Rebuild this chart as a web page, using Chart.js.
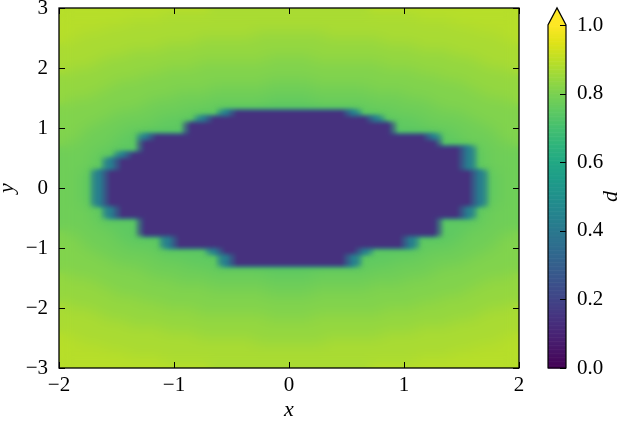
<!DOCTYPE html>
<html lang="en">
<head>
<meta charset="UTF-8">
<title>d(x, y)</title>
<script src="https://cdn.jsdelivr.net/npm/chart.js"></script>
<style>
    body { margin: 0; background: #fff; }
    #wrap { position: relative; width: 629px; height: 421px; }
    #mainChart { position: absolute; left: 0; top: 0; }
    #barChart { position: absolute; left: 530px; top: 0; }
</style>
</head>
<body>
<div id="wrap">
    <canvas id="mainChart" width="629" height="421"></canvas>
    <canvas id="barChart" width="99" height="421"></canvas>
</div>
<script>
// extent of the field and the axis ticks
const xRange = [-2, 2];
const yRange = [-3, 3];
const xTicks = [-2, -1, 0, 1, 2];
const yTicks = [-3, -2, -1, 0, 1, 2, 3];
const cbTicks = [0, 0.2, 0.4, 0.6, 0.8, 1.0];

// d value for each grid character
const dLevels = { '1': 0.14, '3': 0.42, '5': 0.75, '6': 0.78, '7': 0.81, '8': 0.84, '9': 0.87, 'a': 0.89 };

// 40 x 60 cells of 0.1, first row is y = 3, first column x = -2
const dRows = [
    'aaaaaaaaaaaaa9999999' + '9999999aaaaaaaaaaaaa',
    'aaaaaaaaa99999999999' + '99999999999aaaaaaaaa',
    'aaaaaa99999999999999' + '99999999999999aaaaaa',
    'aaaa9999999999999999' + '9999999999999999aaaa',
    'aa999999999999999888' + '888999999999999999aa',
    'a9999999999988888888' + '8888888899999999999a',
    '99999999988888888888' + '88888888888999999999',
    '99999988888888888888' + '88888888888888999999',
    '99998888888888888877' + '77888888888888889999',
    '99988888888877777777' + '77777777888888888999',
    '98888888877777777777' + '77777777777888888889',
    '88888887777777777777' + '77777777777778888888',
    '88888777777777777766' + '66777777777777788888',
    '88887777777776666666' + '66666667777777778888',
    '88877777776666666666' + '66666666667777777888',
    '87777777666666666655' + '55666666666677777778',
    '77777776666665555555' + '55555556666667777777',
    '77777666666555311111' + '11111355566666677777',
    '77776666655531111111' + '11111113555666667777',
    '77766666555111111111' + '11111111155566666777',
    '77666655555111111111' + '11111111155555666677',
    '77666553111111111111' + '11111111111135566677',
    '76666551111111111111' + '11111111111115566667',
    '66665551111111111111' + '11111111111111135666',
    '66655311111111111111' + '11111111111111135666',
    '66653111111111111111' + '11111111111111135666',
    '66653111111111111111' + '11111111111111135666',
    '66531111111111111111' + '11111111111111113566',
    '66531111111111111111' + '11111111111111113566',
    '66531111111111111111' + '11111111111111113566',
    '66531111111111111111' + '11111111111111113566',
    '66531111111111111111' + '11111111111111113566',
    '66531111111111111111' + '11111111111111113566',
    '66653111111111111111' + '11111111111111135666',
    '66653111111111111111' + '11111111111111135666',
    '66655551111111111111' + '11111111111115555666',
    '66665551111111111111' + '11111111111115556666',
    '76666551111111111111' + '11111111111115566667',
    '77666555531111111111' + '11111111113555566677',
    '77666655531111111111' + '11111111113555666677',
    '77766666555553111111' + '11111135555566666777',
    '77776666655555311111' + '11111355555666667777',
    '77777666666555311111' + '11111355566666677777',
    '77777776666665555555' + '55555556666667777777',
    '87777777666666666655' + '55666666666677777778',
    '88877777776666666666' + '66666666667777777888',
    '88887777777776666666' + '66666667777777778888',
    '88888777777777777766' + '66777777777777788888',
    '88888887777777777777' + '77777777777778888888',
    '98888888877777777777' + '77777777777888888889',
    '99988888888877777777' + '77777777888888888999',
    '99998888888888888877' + '77888888888888889999',
    '99999988888888888888' + '88888888888888999999',
    '99999999988888888888' + '88888888888999999999',
    'a9999999999988888888' + '8888888899999999999a',
    'aa999999999999999888' + '888999999999999999aa',
    'aaaa9999999999999999' + '9999999999999999aaaa',
    'aaaaaa99999999999999' + '99999999999999aaaaaa',
    'aaaaaaaaa99999999999' + '99999999999aaaaaaaaa',
    'aaaaaaaaaaaaa9999999' + '9999999aaaaaaaaaaaaa'
];

const viridis = ['#440154', '#471365', '#482475', '#463480', '#414487', '#3b528b', '#355f8d',
    '#2f6c8e', '#2a788e', '#25848e', '#21918c', '#1e9c89', '#22a884', '#2fb47c', '#44bf70',
    '#5ec962', '#7ad151', '#9bd93c', '#bddf26', '#dfe318', '#fde725'];

function hexRGB(h) {
    return [parseInt(h.slice(1, 3), 16), parseInt(h.slice(3, 5), 16), parseInt(h.slice(5, 7), 16)];
}
function viridisRGB(v) {
    const t = Math.min(Math.max(v, 0), 1) * (viridis.length - 1);
    const i = Math.min(Math.floor(t), viridis.length - 2);
    const f = t - i;
    const c0 = hexRGB(viridis[i]), c1 = hexRGB(viridis[i + 1]);
    return c0.map((c, k) => Math.round(c + (c1[k] - c) * f));
}
function css(rgb) { return 'rgb(' + rgb.join(',') + ')'; }

const serif = "'Liberation Serif', 'DejaVu Serif', serif";
function fmt(v) { return v < 0 ? '\u2212' + Math.abs(v) : String(v); }

// one pixel per cell; later scaled onto the plot area
const nx = dRows[0].length, ny = dRows.length;
dRows.forEach((r, i) => { if (r.length !== nx) throw new Error('row ' + i + ' has ' + r.length + ' cells'); });

function makeLayer(pick) {
    const c = document.createElement('canvas');
    c.width = nx;
    c.height = ny;
    const g = c.getContext('2d');
    const im = g.createImageData(nx, ny);
    for (let i = 0; i < ny; i++) {
        for (let j = 0; j < nx; j++) {
            const v = pick(dLevels[dRows[i][j]]);
            const k = (i * nx + j) * 4;
            if (v === null) continue;
            const rgb = viridisRGB(v);
            im.data[k] = rgb[0];
            im.data[k + 1] = rgb[1];
            im.data[k + 2] = rgb[2];
            im.data[k + 3] = 255;
        }
    }
    g.putImageData(im, 0, 0);
    return c;
}
// outer field (carried under the ellipse so it can be blurred cleanly),
// a teal rim, and the ellipse cells on top
const fieldLayer = makeLayer(v => v < 0.5 ? dLevels['5'] : v);
const rimLayer = makeLayer(v => v < 0.5 ? 0.45 : null);
const coreLayer = makeLayer(v => v < 0.5 ? v : null);

const heatmap = {
    id: 'heatmap',
    beforeDatasetsDraw(chart) {
        const { ctx, scales: { x, y } } = chart;
        const l = x.getPixelForValue(xRange[0]), r = x.getPixelForValue(xRange[1]);
        const t = y.getPixelForValue(yRange[1]), b = y.getPixelForValue(yRange[0]);
        const w = r - l, h = b - t;
        ctx.save();
        ctx.beginPath();
        ctx.rect(l, t, w, h);
        ctx.clip();
        ctx.imageSmoothingEnabled = true;
        ctx.imageSmoothingQuality = 'low';
        ctx.drawImage(fieldLayer, l, t, w, h);
        ctx.filter = 'blur(7px)';
        ctx.drawImage(fieldLayer, l, t, w, h);
        ctx.filter = 'blur(2.5px)';
        ctx.drawImage(rimLayer, l, t, w, h);
        ctx.filter = 'blur(1px)';
        ctx.drawImage(coreLayer, l, t, w, h);
        ctx.restore();
    }
};

// frame with inward ticks on all four sides
const frame = {
    id: 'frame',
    afterDraw(chart) {
        const { ctx, chartArea: a, scales: { x, y } } = chart;
        ctx.save();
        ctx.strokeStyle = '#000';
        ctx.lineWidth = 1;
        ctx.beginPath();
        xTicks.forEach(v => {
            const p = Math.round(x.getPixelForValue(v)) + 0.5;
            ctx.moveTo(p, a.bottom); ctx.lineTo(p, a.bottom - 6);
            ctx.moveTo(p, a.top); ctx.lineTo(p, a.top + 6);
        });
        yTicks.forEach(v => {
            const p = Math.round(y.getPixelForValue(v)) + 0.5;
            ctx.moveTo(a.left, p); ctx.lineTo(a.left + 6, p);
            ctx.moveTo(a.right, p); ctx.lineTo(a.right - 6, p);
        });
        ctx.stroke();
        ctx.lineWidth = 1.3;
        ctx.strokeRect(a.left, a.top, a.right - a.left, a.bottom - a.top);
        ctx.restore();
    }
};

const tickFont = { family: serif, size: 21, lineHeight: 1 };

new Chart(document.getElementById('mainChart'), {
    type: 'scatter',
    data: { datasets: [] },
    options: {
        responsive: false,
        animation: false,
        layout: { padding: { left: 0, right: 110, top: 8, bottom: 0 } },
        plugins: { legend: { display: false }, tooltip: { enabled: false } },
        scales: {
            x: {
                type: 'linear', min: xRange[0], max: xRange[1],
                afterBuildTicks: s => { s.ticks = xTicks.map(v => ({ value: v })); },
                afterFit: s => { s.height = 53; s.paddingLeft = 0; s.paddingRight = 0; },
                grid: { display: false, drawTicks: false },
                border: { display: false },
                ticks: { color: '#000', font: tickFont, padding: 7, callback: fmt, maxRotation: 0, autoSkip: false },
                title: { display: true, text: 'x', color: '#000', font: { family: serif, size: 22, style: 'italic', lineHeight: 1 }, padding: 0 }
            },
            y: {
                type: 'linear', min: yRange[0], max: yRange[1],
                afterBuildTicks: s => { s.ticks = yTicks.map(v => ({ value: v })); },
                afterFit: s => { s.width = 59; s.paddingTop = 0; s.paddingBottom = 0; },
                grid: { display: false, drawTicks: false },
                border: { display: false },
                ticks: { color: '#000', font: tickFont, padding: 11, callback: fmt, autoSkip: false },
                title: { display: true, text: 'y', color: '#000', font: { family: serif, size: 22, style: 'italic', lineHeight: 0.7 }, padding: 0 }
            }
        }
    },
    plugins: [heatmap, frame]
});

// colour bar with the "over" triangle on top
const colorbar = {
    id: 'colorbar',
    afterDraw(chart) {
        const { ctx, chartArea: a, scales: { y } } = chart;
        const b0 = y.getPixelForValue(0), b1 = y.getPixelForValue(1);
        const n = 256;
        ctx.save();
        for (let k = 0; k < n; k++) {
            const v0 = k / n, v1 = (k + 1) / n;
            const p0 = y.getPixelForValue(v0), p1 = y.getPixelForValue(v1);
            ctx.fillStyle = css(viridisRGB((v0 + v1) / 2));
            ctx.fillRect(a.left, p1, a.right - a.left, p0 - p1 + 0.6);
        }
        const tip = b1 - 0.05 * (b0 - b1);
        const mid = (a.left + a.right) / 2;
        ctx.fillStyle = css(viridisRGB(1));
        ctx.beginPath();
        ctx.moveTo(a.left, b1); ctx.lineTo(mid, tip); ctx.lineTo(a.right, b1);
        ctx.closePath();
        ctx.fill();
        ctx.strokeStyle = '#000';
        ctx.lineWidth = 1.2;
        ctx.beginPath();
        ctx.moveTo(a.left, b0); ctx.lineTo(a.left, b1); ctx.lineTo(mid, tip);
        ctx.lineTo(a.right, b1); ctx.lineTo(a.right, b0);
        ctx.closePath();
        ctx.stroke();
        ctx.lineWidth = 1;
        ctx.beginPath();
        cbTicks.forEach(v => {
            const p = Math.round(y.getPixelForValue(v)) + 0.5;
            ctx.moveTo(a.right - 6, p); ctx.lineTo(a.right, p);
        });
        ctx.stroke();
        ctx.translate(a.right + 45, (b0 + b1) / 2);
        ctx.rotate(-Math.PI / 2);
        ctx.fillStyle = '#000';
        ctx.font = 'italic 22px ' + serif;
        ctx.textAlign = 'center';
        ctx.textBaseline = 'middle';
        ctx.fillText('d', 0, 0);
        ctx.restore();
    }
};

new Chart(document.getElementById('barChart'), {
    type: 'scatter',
    data: { datasets: [] },
    options: {
        responsive: false,
        animation: false,
        layout: { padding: { left: 18, right: 0, top: 25, bottom: 53 } },
        plugins: { legend: { display: false }, tooltip: { enabled: false } },
        scales: {
            x: { display: false, min: 0, max: 1 },
            y: {
                position: 'right', min: 0, max: 1,
                afterBuildTicks: s => { s.ticks = cbTicks.map(v => ({ value: v })); },
                afterFit: s => { s.width = 63; s.paddingTop = 0; s.paddingBottom = 0; },
                grid: { display: false, drawTicks: false },
                border: { display: false },
                ticks: { color: '#000', font: tickFont, padding: 11, callback: v => v.toFixed(1), autoSkip: false }
            }
        }
    },
    plugins: [colorbar]
});
</script>
</body>
</html>
